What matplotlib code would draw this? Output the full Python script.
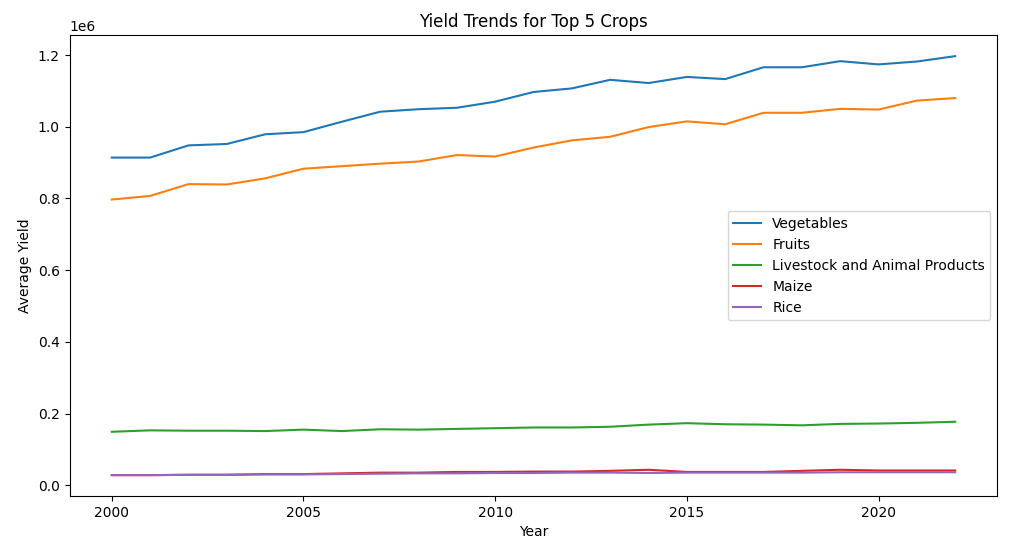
import matplotlib
matplotlib.use("Agg")
import matplotlib.pyplot as plt

years = list(range(2000, 2023))
vegetables = [914000, 914000, 948000, 952000, 979000, 985000, 1014000, 1042000, 1049000, 1053000,
              1070000, 1097000, 1107000, 1131000, 1122000, 1139000, 1133000, 1166000, 1166000, 1183000,
              1174000, 1182000, 1197000]
fruits = [797000, 807000, 840000, 839000, 856000, 883000, 890000, 897000, 903000, 921000,
          917000, 942000, 962000, 972000, 999000, 1015000, 1007000, 1039000, 1039000, 1050000,
          1048000, 1073000, 1080000]
livestock = [149000, 153000, 152000, 152000, 151000, 155000, 151000, 156000, 155000, 157000,
             159000, 161000, 161000, 163000, 169000, 173000, 170000, 169000, 167000, 171000,
             172000, 174000, 177000]
maize = [28000, 28000, 29000, 29000, 31000, 31000, 33000, 35000, 35000, 37000,
         37000, 38000, 38000, 40000, 43000, 37000, 37000, 37000, 40000, 43000,
         41000, 41000, 41000]
rice = [28000, 28000, 29000, 29000, 30000, 30000, 31000, 32000, 33000, 33000,
        34000, 34000, 35000, 35000, 34000, 35000, 35000, 35000, 35000, 36000,
        36000, 36000, 36000]

series = [("Vegetables", vegetables), ("Fruits", fruits),
          ("Livestock and Animal Products", livestock), ("Maize", maize), ("Rice", rice)]

fig, ax = plt.subplots(figsize=(10.24, 5.5), dpi=100)
for name, vals in series:
    ax.plot(years, vals, label=name)
ax.set_title("Yield Trends for Top 5 Crops")
ax.set_xlabel("Year")
ax.set_ylabel("Average Yield")
ax.legend(loc="center right")
fig.subplots_adjust(left=0.068, right=0.974, top=0.936, bottom=0.098)
fig.savefig("out.png")
